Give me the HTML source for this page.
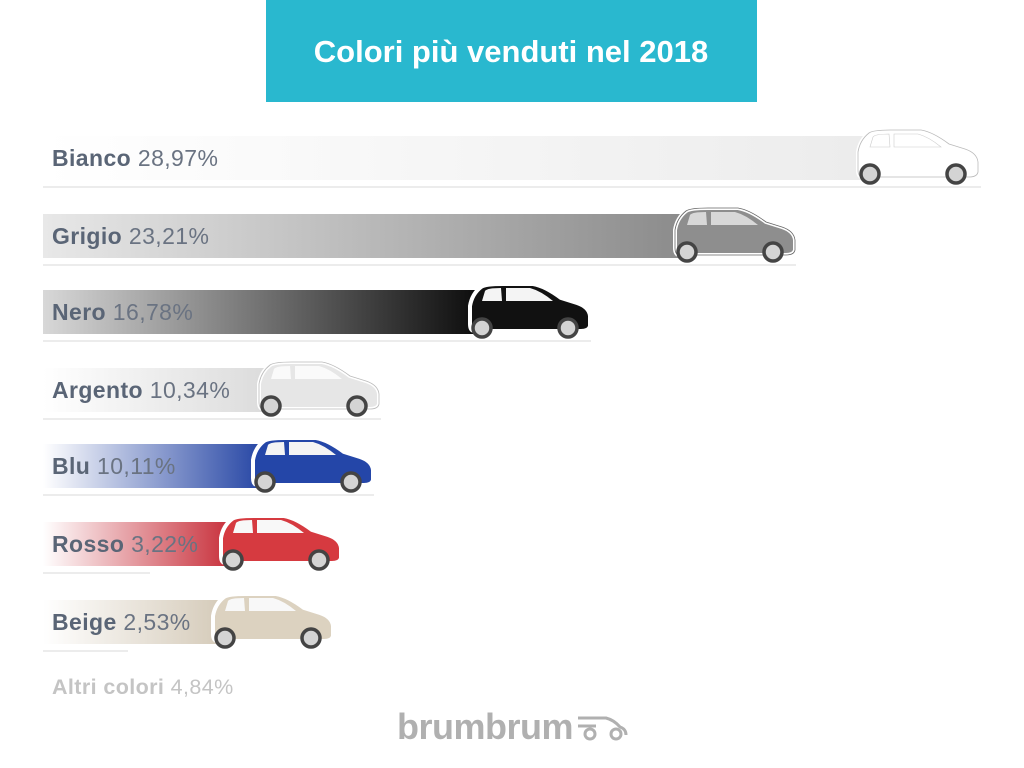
<!DOCTYPE html>
<html><head><meta charset="utf-8"><style>
html,body{margin:0;padding:0;background:#fff;width:1024px;height:768px;overflow:hidden}
svg{display:block}
text{font-family:"Liberation Sans",sans-serif}
</style></head><body>
<svg width="1024" height="768" viewBox="0 0 1024 768" xmlns="http://www.w3.org/2000/svg" xmlns:xlink="http://www.w3.org/1999/xlink">
<defs>
<linearGradient id="g0" x1="0" x2="1"><stop offset="0" stop-color="#fff"/><stop offset="1" stop-color="#ececec"/></linearGradient>
<linearGradient id="g1" x1="0" x2="1"><stop offset="0" stop-color="#e8e8e8"/><stop offset="1" stop-color="#8c8c8c"/></linearGradient>
<linearGradient id="g2" x1="0" x2="1"><stop offset="0" stop-color="#d8d8d8"/><stop offset="1" stop-color="#0e0e0e"/></linearGradient>
<linearGradient id="g3" x1="0" x2="1"><stop offset="0" stop-color="#fff"/><stop offset="1" stop-color="#dcdcdc"/></linearGradient>
<linearGradient id="g4" x1="0" x2="1"><stop offset="0" stop-color="#fff"/><stop offset="1" stop-color="#2a49a6"/></linearGradient>
<linearGradient id="g5" x1="0" x2="1"><stop offset="0" stop-color="#fff"/><stop offset="1" stop-color="#c93540"/></linearGradient>
<linearGradient id="g6" x1="0" x2="1"><stop offset="0" stop-color="#fff"/><stop offset="1" stop-color="#d6ccbb"/></linearGradient>
<path id="cb" d="M3,40 L3,22 Q5,10 14,3 Q18,0 36,0 L66,0 Q78,2 94,14 L110,19 Q122,23 123,32 L123,42 Q122,47 114,47 L8,47 Q3,47 3,40 Z"/>
<g id="win"><path d="M18,7 Q20,4 34,4 L35,17 L15,17 Z"/><path d="M39,4 L63,4 Q74,7 86,17 L39,17 Z"/></g>
<g id="wheels">
<circle cx="15" cy="44" r="9" fill="#d4d4d4" stroke="#444" stroke-width="3.5"/>
<circle cx="101" cy="44" r="9" fill="#d4d4d4" stroke="#444" stroke-width="3.5"/>
</g>
</defs>
<rect x="266" y="0" width="491" height="102" fill="#29b8cf"/>
<text x="511" y="62" text-anchor="middle" fill="#fff" font-size="31" font-weight="bold">Colori più venduti nel 2018</text>

<g font-size="23" letter-spacing="0.4">
<!-- Bianco -->
<rect x="43" y="186" width="938" height="2" fill="#ececec"/>
<rect x="43" y="136" width="820" height="44" fill="url(#g0)"/>
<text x="52" y="166" fill="#6a7382"><tspan font-weight="bold" fill="#5a6576">Bianco</tspan> 28,97%</text>
<g transform="translate(855,130)"><use xlink:href="#cb" fill="#fff" stroke="#fff" stroke-width="4"/><use xlink:href="#cb" fill="#fff" stroke="#bbb" stroke-width="0.8"/><use xlink:href="#win" fill="#fff" stroke="#ccc" stroke-width="0.6"/><use xlink:href="#wheels"/></g>

<!-- Grigio -->
<rect x="43" y="264" width="753" height="2" fill="#ececec"/>
<rect x="43" y="214" width="637" height="44" fill="url(#g1)"/>
<text x="52" y="244" fill="#6a7382"><tspan font-weight="bold" fill="#5a6576">Grigio</tspan> 23,21%</text>
<g transform="translate(672,208)"><use xlink:href="#cb" fill="#8e8e8e" stroke="#fff" stroke-width="4"/><use xlink:href="#cb" fill="none" stroke="#666" stroke-width="0.8"/><use xlink:href="#win" fill="#d8d8d8"/><use xlink:href="#wheels"/></g>

<!-- Nero -->
<rect x="43" y="340" width="548" height="2" fill="#ececec"/>
<rect x="43" y="290" width="432" height="44" fill="url(#g2)"/>
<text x="52" y="320" fill="#6a7382"><tspan font-weight="bold" fill="#5a6576">Nero</tspan> 16,78%</text>
<g transform="translate(467,284)"><use xlink:href="#cb" fill="#111" stroke="#fff" stroke-width="4"/><use xlink:href="#win" fill="#f4f4f4"/><use xlink:href="#wheels"/></g>

<!-- Argento -->
<rect x="43" y="418" width="338" height="2" fill="#ececec"/>
<rect x="43" y="368" width="221" height="44" fill="url(#g3)"/>
<text x="52" y="398" fill="#6a7382"><tspan font-weight="bold" fill="#5a6576">Argento</tspan> 10,34%</text>
<g transform="translate(256,362)"><use xlink:href="#cb" fill="#e6e6e6" stroke="#fff" stroke-width="4"/><use xlink:href="#cb" fill="none" stroke="#bbb" stroke-width="0.8"/><use xlink:href="#win" fill="#fafafa"/><use xlink:href="#wheels"/></g>

<!-- Blu -->
<rect x="43" y="494" width="331" height="2" fill="#ececec"/>
<rect x="43" y="444" width="215" height="44" fill="url(#g4)"/>
<text x="52" y="474" fill="#6a7382"><tspan font-weight="bold" fill="#5a6576">Blu</tspan> 10,11%</text>
<g transform="translate(250,438)"><use xlink:href="#cb" fill="#2446a8" stroke="#fff" stroke-width="4"/><use xlink:href="#win" fill="#f4f4f4"/><use xlink:href="#wheels"/></g>

<!-- Rosso -->
<rect x="43" y="572" width="107" height="2" fill="#ececec"/>
<rect x="43" y="522" width="183" height="44" fill="url(#g5)"/>
<text x="52" y="552" fill="#6a7382"><tspan font-weight="bold" fill="#5a6576">Rosso</tspan> 3,22%</text>
<g transform="translate(218,516)"><use xlink:href="#cb" fill="#d63a40" stroke="#fff" stroke-width="4"/><use xlink:href="#win" fill="#f8f8f8"/><use xlink:href="#wheels"/></g>

<!-- Beige -->
<rect x="43" y="650" width="85" height="2" fill="#ececec"/>
<rect x="43" y="600" width="175" height="44" fill="url(#g6)"/>
<text x="52" y="630" fill="#6a7382"><tspan font-weight="bold" fill="#5a6576">Beige</tspan> 2,53%</text>
<g transform="translate(210,594)"><use xlink:href="#cb" fill="#dcd2c0" stroke="#fff" stroke-width="4"/><use xlink:href="#win" fill="#f8f8f8"/><use xlink:href="#wheels"/></g>

<text x="52" y="694" font-size="21.5" fill="#c4c4c4"><tspan font-weight="bold">Altri colori</tspan> 4,84%</text>
</g>
<text x="397" y="739" font-size="36" fill="#b0b0b0" font-weight="bold" letter-spacing="-0.5">brumbrum</text>
<g fill="none" stroke="#b0b0b0" stroke-width="3">
<path d="M578,718 L606,718 Q614,720 620,727 Q626,729 626,735"/>
<path d="M578,726 L596,726"/>
<circle cx="590" cy="734" r="5"/><circle cx="616" cy="734" r="5"/>
</g>
</svg>
</body></html>
